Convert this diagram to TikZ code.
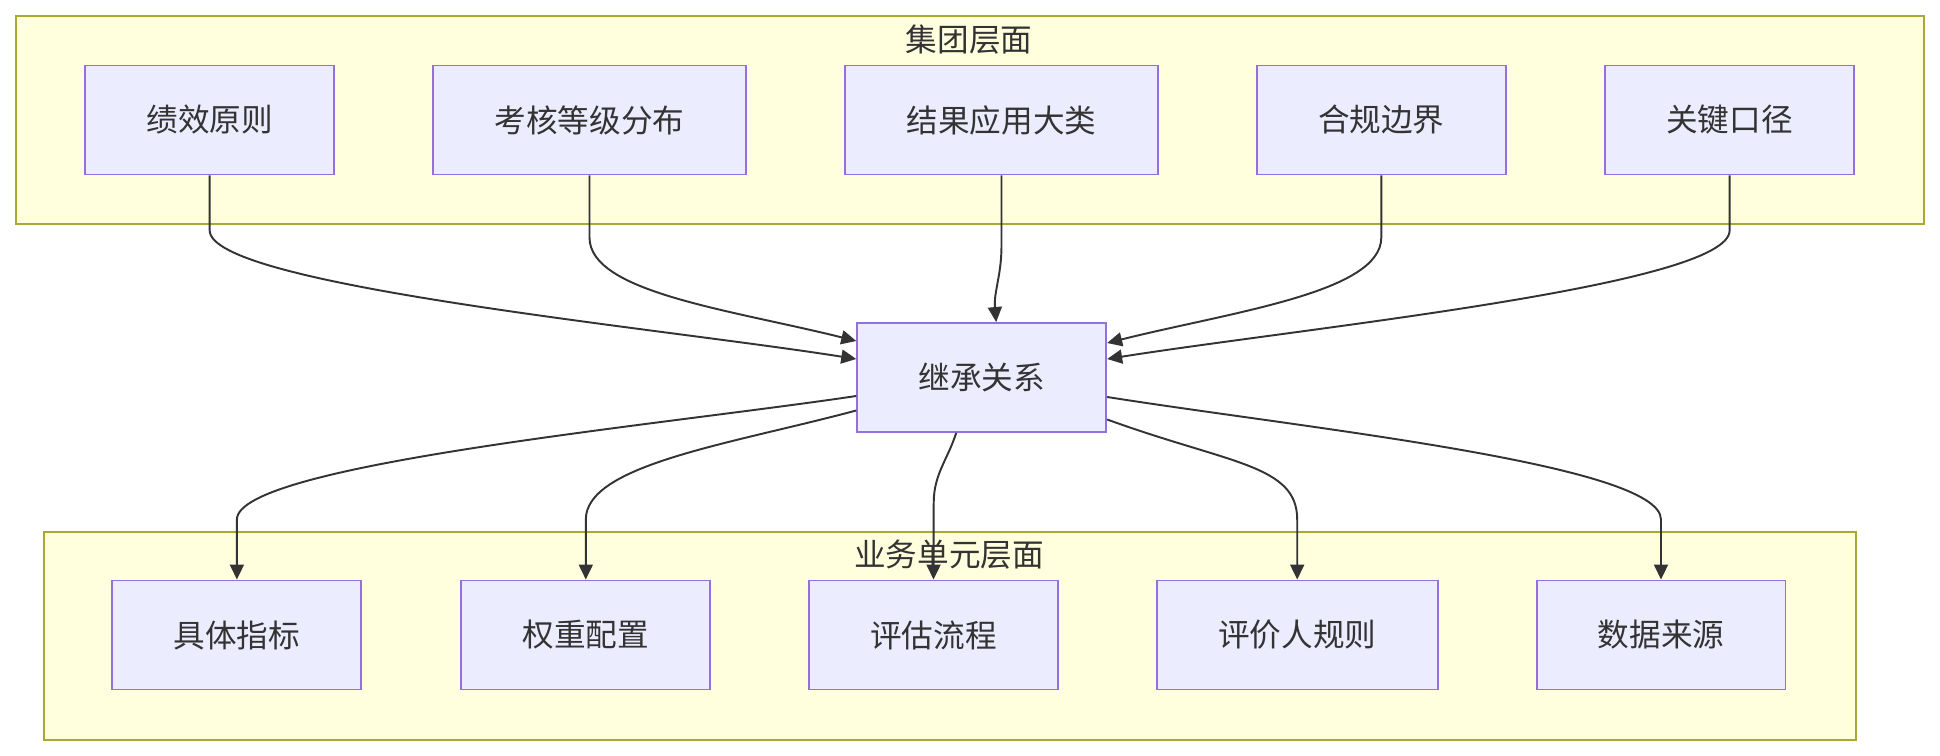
\documentclass[tikz,border=0pt]{standalone}
\usepackage{fontspec}
\newfontfamily\cjk{Noto Sans CJK SC}
\usetikzlibrary{arrows.meta}

\definecolor{clfill}{HTML}{FFFFDE}
\definecolor{cldraw}{HTML}{AAAA33}
\definecolor{ndfill}{HTML}{ECECFF}
\definecolor{nddraw}{HTML}{9370DB}
\definecolor{ink}{HTML}{333333}

\begin{document}
\begin{tikzpicture}[
  x=0.02cm, y=-0.02cm,
  font=\cjk\fontsize{18}{22}\selectfont,
  >={Triangle[length=0.3cm,width=0.28cm]},
  every node/.style={text=ink, align=center},
  grp/.style={draw=cldraw, fill=clfill, line width=1.1pt, minimum height=4.16cm, inner sep=0pt},
  ttl/.style={inner sep=0pt},
  box/.style={draw=nddraw, fill=ndfill, line width=1.1pt, minimum height=2.18cm, inner sep=0pt},
  w4/.style={box, minimum width=4.98cm},
  w5/.style={box, minimum width=5.62cm},
  w6/.style={box, minimum width=6.26cm},
  arr/.style={->, draw=ink, line width=1.1pt},
  rarr/.style={<-, draw=ink, line width=1.1pt}
]
\useasboundingbox (0,0) rectangle (1940,756);

% clusters
\node[grp, minimum width=38.16cm] (top) at (970,120) {};
\node[ttl] (toptitle) at (969,40) {集团层面};
\node[grp, minimum width=36.23cm] (bot) at (950,636) {};
\node[ttl] (bottitle) at (949,555) {业务单元层面};

% group level
\node[w4] (g1) at (209.7,120) {绩效原则};
\node[w6] (g2) at (589.5,120) {考核等级分布};
\node[w6] (g3) at (1001.5,120) {结果应用大类};
\node[w4] (g4) at (1381.3,120) {合规边界};
\node[w4] (g5) at (1729.6,120) {关键口径};

% inheritance
\node[w4] (m) at (981.7,377.5) {继承关系};

% business unit level
\node[w4] (b1) at (236.9,635) {具体指标};
\node[w4] (b2) at (585.8,635) {权重配置};
\node[w4] (b3) at (933.5,635) {评估流程};
\node[w5] (b4) at (1297.2,635) {评价人规则};
\node[w4] (b5) at (1661,635) {数据来源};

\draw[arr] (g1.south) -- ++(0,55) to[out=-90, in=171, out distance=1.1cm, in distance=4cm] ([yshift=0.37cm]m.west);
\draw[arr] (g2.south) -- ++(0,62) to[out=-90, in=166, out distance=1.1cm, in distance=2.6cm] ([yshift=0.73cm]m.west);
\draw[arr] (g3.south) -- ++(0,70) to[out=-90, in=95] ([xshift=0.29cm]m.north);
\draw[arr] (g4.south) -- ++(0,62) to[out=-90, in=14, out distance=1.1cm, in distance=2.6cm] ([yshift=0.69cm]m.east);
\draw[arr] (g5.south) -- ++(0,55) to[out=-90, in=9, out distance=1.1cm, in distance=4cm] ([yshift=0.37cm]m.east);

\draw[rarr] (b1.north) -- ++(0,-60) to[out=90, in=-171.5, out distance=1.1cm, in distance=4cm] ([yshift=-0.37cm]m.west);
\draw[rarr] (b2.north) -- ++(0,-60) to[out=90, in=-165, out distance=1.1cm, in distance=2.6cm] ([yshift=-0.66cm]m.west);
\draw[arr] ([xshift=-0.51cm]m.south) to[out=-108, in=90] ++(-22.5,70) -- (b3.north);
\draw[rarr] (b4.north) -- ++(0,-60) to[out=90, in=-20, out distance=1.1cm, in distance=2.6cm] ([yshift=-0.84cm]m.east);
\draw[rarr] (b5.north) -- ++(0,-60) to[out=90, in=-9, out distance=1.1cm, in distance=4cm] ([yshift=-0.39cm]m.east);
\end{tikzpicture}
\end{document}
